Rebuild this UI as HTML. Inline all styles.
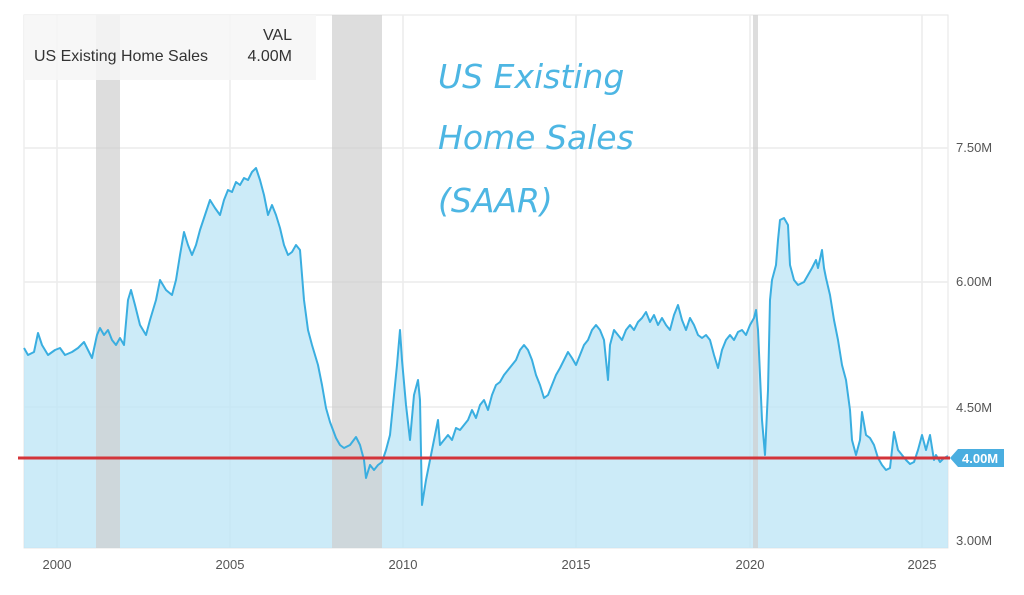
<!DOCTYPE html>
<html><head><meta charset="utf-8"><style>
body{margin:0;background:#fff;width:1024px;height:590px;overflow:hidden;font-family:"Liberation Sans",sans-serif}
</style></head><body>
<svg width="1024" height="590" viewBox="0 0 1024 590" xmlns="http://www.w3.org/2000/svg">
<rect x="24" y="15" width="924" height="533" fill="#fff" stroke="#e6e6e6"/>
<g stroke="#ececec" stroke-width="1.5">
<line x1="57" y1="15" x2="57" y2="548"/><line x1="230" y1="15" x2="230" y2="548"/><line x1="403" y1="15" x2="403" y2="548"/><line x1="576" y1="15" x2="576" y2="548"/><line x1="750" y1="15" x2="750" y2="548"/><line x1="922" y1="15" x2="922" y2="548"/>
<line x1="24" y1="148" x2="948" y2="148"/><line x1="24" y1="282" x2="948" y2="282"/><line x1="24" y1="407" x2="948" y2="407"/>
</g>
<polygon fill="#bfe6f6" fill-opacity="0.8" points="24,548 24,348 28,355 34,352 38,333 42,345 48,355 55,350 60,348 65,355 72,352 78,348 84,342 88,350 92,358 97,335 100,328 104,335 108,330 112,340 116,345 120,338 124,345 128,300 131,290 135,305 140,325 146,335 150,320 156,300 160,280 166,290 172,295 176,280 180,255 184,232 188,245 192,255 196,245 200,230 205,215 210,200 215,208 220,215 224,200 228,190 232,192 236,182 240,185 244,178 248,180 252,172 256,168 260,180 264,195 268,215 272,205 276,215 280,228 284,245 288,255 292,252 296,245 300,250 304,300 308,330 312,345 318,365 322,385 326,408 330,422 336,438 340,445 344,448 350,445 356,437 360,445 364,460 366,478 370,465 374,470 378,465 382,462 386,450 390,435 394,395 397,365 400,330 402,360 406,405 410,440 414,395 418,380 420,400 422,505 426,480 430,460 434,440 438,420 440,445 444,440 448,435 452,440 456,428 460,430 464,425 468,420 472,410 476,418 480,405 484,400 488,410 492,395 496,385 500,382 504,375 508,370 512,365 516,360 520,350 524,345 528,350 532,360 536,375 540,385 544,398 548,395 552,385 556,375 560,368 564,360 568,352 572,358 576,365 580,355 584,345 588,340 592,330 596,325 600,330 604,340 608,380 610,345 614,330 618,335 622,340 626,330 630,325 634,330 638,322 642,318 646,312 650,322 654,315 658,325 662,318 666,325 670,330 674,315 678,305 682,320 686,330 690,318 694,325 698,335 702,338 706,335 710,340 714,355 718,368 722,350 726,340 730,335 734,340 738,332 742,330 746,335 750,325 754,318 756,310 758,330 762,420 765,455 768,390 770,300 772,280 776,265 778,240 780,220 784,218 788,225 790,265 794,280 798,285 804,282 808,275 812,268 816,260 818,268 822,250 824,268 826,278 830,295 834,320 838,340 842,365 846,380 850,410 852,440 856,455 860,440 862,412 866,435 870,438 874,445 878,458 882,465 886,470 890,468 894,432 898,450 902,455 906,460 910,464 914,462 918,450 922,435 926,450 930,435 934,460 936,455 940,462 944,458 948,456 948,548"/>
<g fill="#cfcfcf" opacity="0.7"><rect x="96" y="15" width="24" height="533"/><rect x="332" y="15" width="50" height="533"/><rect x="753" y="15" width="5" height="533"/></g>
<rect x="24" y="15" width="292" height="65" fill="#f6f6f6" opacity="0.85"/>
<text x="34" y="61" font-size="16" fill="#333" textLength="174" lengthAdjust="spacingAndGlyphs">US Existing Home Sales</text>
<text x="292" y="40" font-size="16" fill="#333" text-anchor="end">VAL</text>
<text x="292" y="61" font-size="16" fill="#333" text-anchor="end">4.00M</text>
<polyline fill="none" stroke="#3aaee0" stroke-width="2" stroke-linejoin="round" points="24,348 28,355 34,352 38,333 42,345 48,355 55,350 60,348 65,355 72,352 78,348 84,342 88,350 92,358 97,335 100,328 104,335 108,330 112,340 116,345 120,338 124,345 128,300 131,290 135,305 140,325 146,335 150,320 156,300 160,280 166,290 172,295 176,280 180,255 184,232 188,245 192,255 196,245 200,230 205,215 210,200 215,208 220,215 224,200 228,190 232,192 236,182 240,185 244,178 248,180 252,172 256,168 260,180 264,195 268,215 272,205 276,215 280,228 284,245 288,255 292,252 296,245 300,250 304,300 308,330 312,345 318,365 322,385 326,408 330,422 336,438 340,445 344,448 350,445 356,437 360,445 364,460 366,478 370,465 374,470 378,465 382,462 386,450 390,435 394,395 397,365 400,330 402,360 406,405 410,440 414,395 418,380 420,400 422,505 426,480 430,460 434,440 438,420 440,445 444,440 448,435 452,440 456,428 460,430 464,425 468,420 472,410 476,418 480,405 484,400 488,410 492,395 496,385 500,382 504,375 508,370 512,365 516,360 520,350 524,345 528,350 532,360 536,375 540,385 544,398 548,395 552,385 556,375 560,368 564,360 568,352 572,358 576,365 580,355 584,345 588,340 592,330 596,325 600,330 604,340 608,380 610,345 614,330 618,335 622,340 626,330 630,325 634,330 638,322 642,318 646,312 650,322 654,315 658,325 662,318 666,325 670,330 674,315 678,305 682,320 686,330 690,318 694,325 698,335 702,338 706,335 710,340 714,355 718,368 722,350 726,340 730,335 734,340 738,332 742,330 746,335 750,325 754,318 756,310 758,330 762,420 765,455 768,390 770,300 772,280 776,265 778,240 780,220 784,218 788,225 790,265 794,280 798,285 804,282 808,275 812,268 816,260 818,268 822,250 824,268 826,278 830,295 834,320 838,340 842,365 846,380 850,410 852,440 856,455 860,440 862,412 866,435 870,438 874,445 878,458 882,465 886,470 890,468 894,432 898,450 902,455 906,460 910,464 914,462 918,450 922,435 926,450 930,435 934,460 936,455 940,462 944,458 948,456"/>
<line x1="18" y1="458" x2="950" y2="458" stroke="#d3343a" stroke-width="3"/>
<polygon points="950,458 958,449 1004,449 1004,467 958,467" fill="#4aaee0"/>
<text x="962" y="463" font-size="13" font-weight="bold" fill="#fff">4.00M</text>
<g font-size="13" fill="#555">
<text x="956" y="152">7.50M</text><text x="956" y="286">6.00M</text><text x="956" y="412">4.50M</text><text x="956" y="545">3.00M</text>
</g>
<g font-size="13" fill="#555" text-anchor="middle">
<text x="57" y="569">2000</text><text x="230" y="569">2005</text><text x="403" y="569">2010</text><text x="576" y="569">2015</text><text x="750" y="569">2020</text><text x="922" y="569">2025</text>
</g>
<g font-family="'DejaVu Sans',sans-serif" font-size="33" fill="#4db6e3" font-style="italic">
<text x="438" y="88">US Existing</text><text x="438" y="149">Home Sales</text><text x="438" y="212">(SAAR)</text>
</g>
</svg>
</body></html>
